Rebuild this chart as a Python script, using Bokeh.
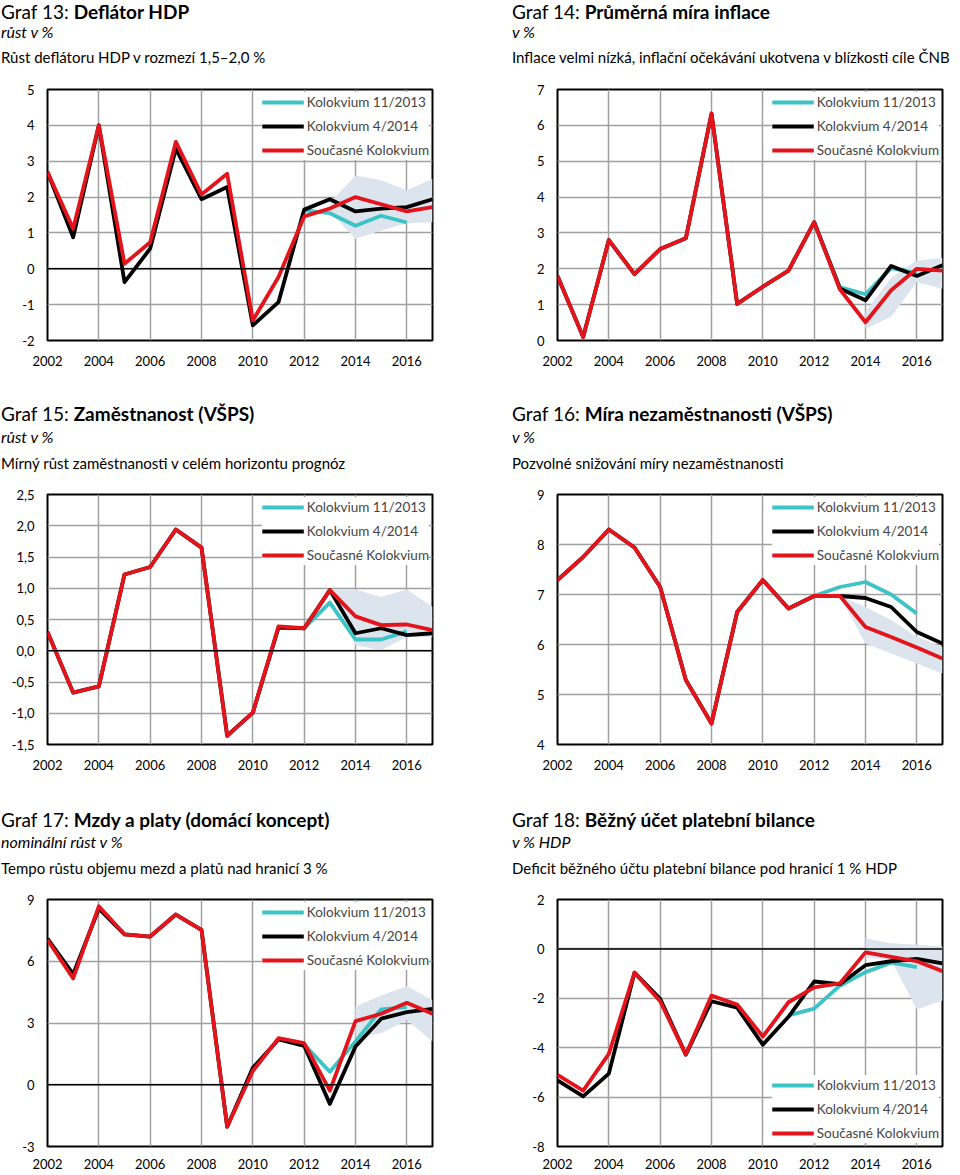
from bokeh.plotting import figure
from bokeh.layouts import column, row
from bokeh.models import Range1d, Span, Div
from bokeh.embed import file_html
from bokeh.resources import INLINE

# ---------------- data ----------------
YEARS = list(range(2002, 2018))
X_TICKS = list(range(2002, 2017, 2))
LEGEND_LABELS = ["Kolokvium 11/2013", "Kolokvium 4/2014", "Současné Kolokvium"]

# Graf 13: Deflátor HDP
red13 = [2.70, 1.12, 4.00, 0.14, 0.74, 3.54, 2.07, 2.65, -1.44, -0.23, 1.46, 1.68, 2.00, 1.80, 1.60, 1.72]
black13 = [2.70, 0.88, 4.00, -0.37, 0.56, 3.35, 1.94, 2.28, -1.58, -0.93, 1.65, 1.94, 1.60, 1.68, 1.72, 1.94]
cyan13_years = [2012, 2013, 2014, 2015, 2016]
cyan13 = [1.63, 1.55, 1.20, 1.48, 1.29]
band13_years = [2013, 2014, 2015, 2016, 2017]
band13_up = [1.85, 2.60, 2.47, 2.19, 2.51]
band13_lo = [1.60, 0.84, 1.07, 1.27, 1.30]
yticks13 = [-2, -1, 0, 1, 2, 3, 4, 5]
ylabels13 = ["-2", "-1", "0", "1", "2", "3", "4", "5"]

# Graf 14: Průměrná míra inflace
red14 = [1.80, 0.10, 2.80, 1.85, 2.55, 2.85, 6.33, 1.02, 1.50, 1.95, 3.30, 1.43, 0.51, 1.40, 2.00, 1.95]
black14 = [1.80, 0.10, 2.80, 1.85, 2.55, 2.85, 6.33, 1.02, 1.50, 1.95, 3.30, 1.45, 1.12, 2.08, 1.80, 2.10]
cyan14_years = [2012, 2013, 2014, 2015, 2016]
cyan14 = [3.30, 1.49, 1.29, 2.02, 1.88]
band14_years = [2014, 2015, 2016, 2017]
band14_up = [0.80, 1.75, 2.23, 2.30]
band14_lo = [0.33, 0.66, 1.63, 1.44]
yticks14 = [0, 1, 2, 3, 4, 5, 6, 7]
ylabels14 = ["0", "1", "2", "3", "4", "5", "6", "7"]

# Graf 15: Zaměstnanost (VŠPS)
red15 = [0.30, -0.67, -0.57, 1.22, 1.34, 1.94, 1.65, -1.36, -0.99, 0.39, 0.36, 0.97, 0.55, 0.41, 0.42, 0.33]
black15 = [0.30, -0.67, -0.57, 1.22, 1.34, 1.94, 1.65, -1.36, -0.99, 0.37, 0.36, 0.97, 0.28, 0.36, 0.25, 0.28]
cyan15_years = [2012, 2013, 2014, 2015, 2016]
cyan15 = [0.36, 0.77, 0.18, 0.18, 0.31]
band15_years = [2013, 2014, 2015, 2016, 2017]
band15_up = [0.97, 0.98, 0.86, 0.98, 0.70]
band15_lo = [0.97, 0.09, 0.01, 0.22, 0.22]
yticks15 = [-1.5, -1.0, -0.5, 0.0, 0.5, 1.0, 1.5, 2.0, 2.5]
ylabels15 = ["-1,5", "-1,0", "-0,5", "0,0", "0,5", "1,0", "1,5", "2,0", "2,5"]

# Graf 16: Míra nezaměstnanosti (VŠPS)
red16 = [7.29, 7.75, 8.30, 7.94, 7.15, 5.29, 4.42, 6.65, 7.29, 6.72, 6.97, 6.97, 6.35, 6.15, 5.94, 5.72]
black16 = [7.29, 7.75, 8.30, 7.94, 7.15, 5.29, 4.42, 6.65, 7.29, 6.72, 6.97, 6.97, 6.93, 6.75, 6.25, 6.02]
cyan16_years = [2012, 2013, 2014, 2015, 2016]
cyan16 = [6.97, 7.15, 7.25, 7.00, 6.62]
band16_years = [2013, 2014, 2015, 2016, 2017]
band16_up = [6.97, 6.75, 6.49, 6.15, 5.95]
band16_lo = [6.97, 6.02, 5.82, 5.62, 5.42]
yticks16 = [4, 5, 6, 7, 8, 9]
ylabels16 = ["4", "5", "6", "7", "8", "9"]

# Graf 17: Mzdy a platy (domácí koncept)
red17 = [7.04, 5.17, 8.67, 7.31, 7.20, 8.27, 7.52, -2.04, 0.67, 2.26, 2.02, -0.29, 3.09, 3.45, 3.98, 3.45]
black17 = [7.10, 5.37, 8.55, 7.31, 7.20, 8.27, 7.52, -2.04, 0.82, 2.20, 1.89, -0.93, 1.86, 3.21, 3.53, 3.69]
cyan17_years = [2012, 2013, 2014, 2015, 2016]
cyan17 = [1.95, 0.63, 2.10, 3.66, 3.77]
band17_years = [2014, 2015, 2016, 2017]
band17_up = [3.80, 4.33, 4.80, 4.12]
band17_lo = [2.30, 2.50, 3.14, 2.10]
yticks17 = [-3, 0, 3, 6, 9]
ylabels17 = ["-3", "0", "3", "6", "9"]

# Graf 18: Běžný účet platební bilance
red18 = [-5.10, -5.74, -4.25, -0.96, -2.12, -4.28, -1.89, -2.25, -3.55, -2.16, -1.56, -1.40, -0.14, -0.32, -0.50, -0.90]
black18 = [-5.32, -5.97, -5.05, -0.96, -2.02, -4.28, -2.12, -2.38, -3.88, -2.75, -1.32, -1.43, -0.66, -0.50, -0.40, -0.59]
cyan18_years = [2011, 2012, 2013, 2014, 2015, 2016]
cyan18 = [-2.69, -2.42, -1.49, -0.94, -0.56, -0.74]
band18_years = [2014, 2015, 2016, 2017]
band18_up = [0.43, 0.23, 0.17, 0.10]
band18_lo = [-0.35, -0.45, -2.45, -2.09]
yticks18 = [-8, -6, -4, -2, 0, 2]
ylabels18 = ["-8", "-6", "-4", "-2", "0", "2"]

# ---------------- style ----------------
FONT = "Lato"
CYAN = "#3CC3C6"
BLACK = "#000000"
RED = "#E3141B"
BAND = "#DCE4EE"
GRID = "#A0A0A0"

# row configs: (header height, frame height, border bottom, x-label standoff, title baselines)
ROW1 = (81, 251, 45, 15, (18, 36, 62))
ROW2 = (101, 250, 51, 15, (35, 56, 83))
ROW3 = (96, 247, 28, 12, (31, 51, 78))


def header(side, height, bases, num, bold, unit, desc):
    w = 480 if side == "L" else 479
    left = 1 if side == "L" else 32

    def line(base, size, inner, style=""):
        # Lato: baseline sits ~0.905 em below the top of a 1.2 line box
        top = base - 0.905 * size
        return ('<div style="position:absolute;left:%dpx;top:%.1fpx;font-size:%dpx;'
                'line-height:1.2;white-space:nowrap;%s">%s</div>' % (left, top, size, style, inner))

    html = ('<div style="position:relative;width:%dpx;height:%dpx;font-family:Lato;color:#000;">' % (w, height)
            + line(bases[0], 19, 'Graf %d: <b>%s</b>' % (num, bold))
            + line(bases[1], 16, unit, "font-style:italic;")
            + line(bases[2], 15, desc)
            + '</div>')
    return Div(text=html, width=w, height=height, margin=0)


def make_panel(side, rowcfg, num, bold, unit, desc, yticks, ylabels,
               red, black, cyan_years, cyan, band_years, band_up, band_lo,
               legend_loc="top_right", zero=True):
    hh, fh, bottom, xstand, bases = rowcfg
    left = 47 if side == "L" else 77
    right = 48 if side == "L" else 17
    p = figure(frame_width=385, frame_height=fh,
               min_border_left=left, min_border_right=right,
               min_border_top=8, min_border_bottom=bottom,
               x_range=Range1d(2002, 2017),
               y_range=Range1d(yticks[0], yticks[-1]),
               output_backend="svg", toolbar_location=None, title=None)
    p.background_fill_color = "white"
    p.border_fill_color = "white"
    p.outline_line_color = "black"
    p.outline_line_width = 2

    for ax in (p.xaxis, p.yaxis):
        ax.axis_line_color = None
        ax.major_tick_line_color = None
        ax.minor_tick_line_color = None
        ax.major_tick_out = 0
        ax.major_tick_in = 0
        ax.minor_tick_out = 0
        ax.major_label_text_font = FONT
        ax.major_label_text_font_size = "13px"
        ax.major_label_text_color = "black"
    p.xaxis.ticker = X_TICKS
    p.xaxis.major_label_standoff = xstand
    p.yaxis.ticker = yticks
    p.yaxis.major_label_standoff = 13
    p.yaxis.major_label_overrides = {t: l for t, l in zip(yticks, ylabels)}

    for g in (p.xgrid, p.ygrid):
        g.grid_line_color = GRID
        g.grid_line_width = 1.5
    p.xgrid.ticker = X_TICKS
    p.ygrid.ticker = yticks

    p.varea(x=band_years, y1=band_lo, y2=band_up, fill_color=BAND)
    if zero:
        p.add_layout(Span(location=0, dimension="width", line_color="black", line_width=1.5))

    kw = dict(line_width=3.8, line_join="round")
    p.line(cyan_years, cyan, line_color=CYAN, legend_label=LEGEND_LABELS[0], **kw)
    p.line(YEARS, black, line_color=BLACK, legend_label=LEGEND_LABELS[1], **kw)
    p.line(YEARS, red, line_color=RED, legend_label=LEGEND_LABELS[2], **kw)

    lg = p.legend[0]
    lg.location = legend_loc
    lg.background_fill_color = "white"
    lg.background_fill_alpha = 1.0
    lg.border_line_color = None
    lg.label_text_font = FONT
    lg.label_text_font_size = "13.5px"
    lg.glyph_width = 42
    lg.glyph_height = 20
    lg.label_height = 20
    lg.label_standoff = 3
    lg.spacing = 4
    lg.padding = 5
    lg.margin = 3

    return column(header(side, hh, bases, num, bold, unit, desc), p, spacing=0)


p13 = make_panel("L", ROW1, 13, "Deflátor HDP", "růst v %",
                 "Růst deflátoru HDP v rozmezí 1,5–2,0 %", yticks13, ylabels13,
                 red13, black13, cyan13_years, cyan13, band13_years, band13_up, band13_lo)
p14 = make_panel("R", ROW1, 14, "Průměrná míra inflace", "v %",
                 "Inflace velmi nízká, inflační očekávání ukotvena v blízkosti cíle ČNB",
                 yticks14, ylabels14, red14, black14, cyan14_years, cyan14,
                 band14_years, band14_up, band14_lo, zero=False)
p15 = make_panel("L", ROW2, 15, "Zaměstnanost (VŠPS)", "růst v %",
                 "Mírný růst zaměstnanosti v celém horizontu prognóz", yticks15, ylabels15,
                 red15, black15, cyan15_years, cyan15, band15_years, band15_up, band15_lo)
p16 = make_panel("R", ROW2, 16, "Míra nezaměstnanosti (VŠPS)", "v %",
                 "Pozvolné snižování míry nezaměstnanosti", yticks16, ylabels16,
                 red16, black16, cyan16_years, cyan16, band16_years, band16_up, band16_lo,
                 zero=False)
p17 = make_panel("L", ROW3, 17, "Mzdy a platy (domácí koncept)", "nominální růst v %",
                 "Tempo růstu objemu mezd a platů nad hranicí 3 %", yticks17, ylabels17,
                 red17, black17, cyan17_years, cyan17, band17_years, band17_up, band17_lo)
p18 = make_panel("R", ROW3, 18, "Běžný účet platební bilance", "v % HDP",
                 "Deficit běžného účtu platební bilance pod hranicí 1 % HDP", yticks18, ylabels18,
                 red18, black18, cyan18_years, cyan18, band18_years, band18_up, band18_lo,
                 legend_loc="bottom_right")

layout = column(row(p13, p14, spacing=0), row(p15, p16, spacing=0),
                row(p17, p18, spacing=0), spacing=0)
open("out.html", "w").write(file_html(layout, INLINE))
